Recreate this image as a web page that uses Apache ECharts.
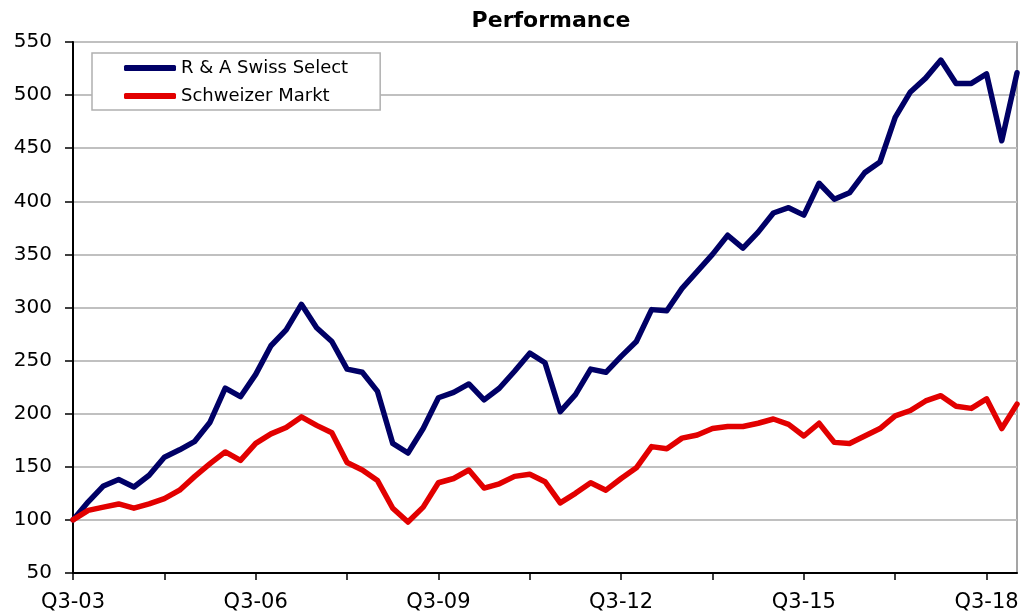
<!DOCTYPE html>
<html><head><meta charset="utf-8">
<script src="https://cdn.jsdelivr.net/npm/echarts@6/dist/echarts.min.js"></script>
<style>html,body{margin:0;padding:0;background:#fff}#c{width:1027px;height:616px}</style>
</head><body><div id="c"></div>
<script>
const categories = ['Q3-03','Q4-03','Q1-04','Q2-04','Q3-04','Q4-04','Q1-05','Q2-05','Q3-05','Q4-05','Q1-06','Q2-06',
'Q3-06','Q4-06','Q1-07','Q2-07','Q3-07','Q4-07','Q1-08','Q2-08','Q3-08','Q4-08','Q1-09','Q2-09',
'Q3-09','Q4-09','Q1-10','Q2-10','Q3-10','Q4-10','Q1-11','Q2-11','Q3-11','Q4-11','Q1-12','Q2-12',
'Q3-12','Q4-12','Q1-13','Q2-13','Q3-13','Q4-13','Q1-14','Q2-14','Q3-14','Q4-14','Q1-15','Q2-15',
'Q3-15','Q4-15','Q1-16','Q2-16','Q3-16','Q4-16','Q1-17','Q2-17','Q3-17','Q4-17','Q1-18','Q2-18',
'Q3-18','Q4-18','Q1-19'];
const swissSelect = [100,117,132,138,131,142,159,166,174,192,224,216,
237,264,279,303,281,268,242,239,221,172,163,186,
215,220,228,213,224,240,257,248,202,218,242,239,
254,268,298,297,318,334,350,368,356,371,389,394,
387,417,402,408,427,437,479,503,516,533,511,511,
520,457,521];
const schweizerMarkt = [100,109,112,115,111,115,120,128,141,153,164,156,
172,181,187,197,189,182,154,147,137,111,98,112,
135,139,147,130,134,141,143,136,116,125,135,128,
139,149,169,167,177,180,186,188,188,191,195,190,
179,191,173,172,179,186,198,203,212,217,207,205,
214,186,209];
const seriesNames = ['R & A Swiss Select','Schweizer Markt'];
const yTicks = {min:50, max:550, interval:50};

const chart = echarts.init(document.getElementById('c'), null, {renderer:'canvas'});
const font = 'DejaVu Sans, Verdana, sans-serif';
chart.setOption({
  animation:false,
  backgroundColor:'#fff',
  title:{text:'Performance', left:546, textAlign:'center', top:5,
    textStyle:{fontFamily:font, fontSize:22, fontWeight:'bold', color:'#000'}},
  grid:{left:73, right:10, top:42, bottom:43, show:true, borderColor:'#888', borderWidth:1.5},
  legend:{orient:'vertical', left:92, top:53, padding:[6,32,5,32], itemGap:10,
    backgroundColor:'#fff', borderColor:'#b0b0b0', borderWidth:1.5,
    itemWidth:52, itemHeight:6, icon:'roundRect',
    textStyle:{fontFamily:font, fontSize:18, color:'#000'},
    data:seriesNames},
  xAxis:{type:'category', data:categories, boundaryGap:false,
    axisLine:{lineStyle:{color:'#000', width:2}},
    axisTick:{interval:5, length:7, lineStyle:{color:'#000', width:1.5}},
    axisLabel:{interval:11, margin:19, fontFamily:font, fontSize:21, color:'#000'},
    splitLine:{show:false}},
  yAxis:{type:'value', min:yTicks.min, max:yTicks.max, interval:yTicks.interval,
    axisLine:{show:true, lineStyle:{color:'#000', width:2}},
    axisTick:{show:true, length:8, lineStyle:{color:'#000', width:1.5}},
    axisLabel:{margin:21, fontFamily:font, fontSize:20, color:'#000'},
    splitLine:{lineStyle:{color:'#c0c0c0', width:2}}},
  series:[
    {name:seriesNames[0], type:'line', data:swissSelect, symbol:'none',
      lineStyle:{color:'#000066', width:5.5, join:'round', cap:'round'}, itemStyle:{color:'#000066'}},
    {name:seriesNames[1], type:'line', data:schweizerMarkt, symbol:'none',
      lineStyle:{color:'#e20000', width:5.5, join:'round', cap:'round'}, itemStyle:{color:'#e20000'}}
  ]
});
</script></body></html>
